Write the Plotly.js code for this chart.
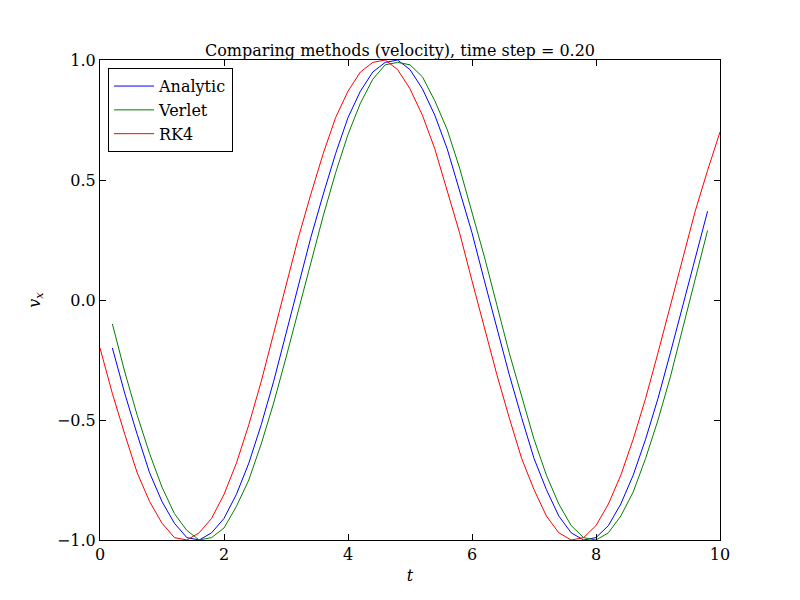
<!DOCTYPE html>
<html>
<head>
<meta charset="utf-8">
<script src="https://cdn.plot.ly/plotly-3.0.1.min.js"></script>
<style>body{margin:0;background:#fff}</style>
</head>
<body>
<div id="plot" style="width:800px;height:600px"></div>
<script>
var tStep = [0.2,0.4,0.6,0.8,1.0,1.2,1.4,1.6,1.8,2.0,2.2,2.4,2.6,2.8,3.0,3.2,3.4,3.6,3.8,4.0,
  4.2,4.4,4.6,4.8,5.0,5.2,5.4,5.6,5.8,6.0,6.2,6.4,6.6,6.8,7.0,7.2,7.4,7.6,7.8,8.0,
  8.2,8.4,8.6,8.8,9.0,9.2,9.4,9.6,9.8];
var tRK4 = [0.0,0.2,0.4,0.6,0.8,1.0,1.2,1.4,1.6,1.8,2.0,2.2,2.4,2.6,2.8,3.0,3.2,3.4,3.6,3.8,4.0,
  4.2,4.4,4.6,4.8,5.0,5.2,5.4,5.6,5.8,6.0,6.2,6.4,6.6,6.8,7.0,7.2,7.4,7.6,7.8,8.0,
  8.2,8.4,8.6,8.8,9.0,9.2,9.4,9.6,9.8,10.0];

var analytic = [-0.20,-0.39,-0.56,-0.72,-0.84,-0.93,-0.99,-1.00,-0.97,-0.91,-0.81,-0.68,-0.52,-0.34,-0.14,
  0.06,0.26,0.44,0.61,0.76,0.87,0.95,0.99,1.00,0.96,0.88,0.77,0.63,0.46,0.28,0.08,
  -0.12,-0.31,-0.49,-0.66,-0.79,-0.90,-0.97,-1.00,-0.99,-0.94,-0.85,-0.73,-0.58,-0.41,-0.22,-0.02,
  0.17,0.37];
var verlet = [-0.10,-0.30,-0.48,-0.64,-0.78,-0.89,-0.96,-1.00,-0.99,-0.95,-0.86,-0.75,-0.60,-0.43,-0.24,-0.04,
  0.16,0.35,0.53,0.69,0.82,0.92,0.98,0.99,0.98,0.93,0.83,0.71,0.55,0.37,0.18,
  -0.02,-0.22,-0.40,-0.58,-0.73,-0.85,-0.94,-0.99,-1.00,-0.97,-0.90,-0.80,-0.66,-0.50,-0.32,-0.12,
  0.08,0.29];
var rk4 = [-0.20,-0.39,-0.56,-0.72,-0.84,-0.93,-0.99,-1.00,-0.97,-0.91,-0.81,-0.68,-0.52,-0.34,-0.14,
  0.06,0.26,0.44,0.61,0.76,0.87,0.95,0.99,1.00,0.96,0.88,0.77,0.63,0.46,0.28,0.08,
  -0.12,-0.31,-0.49,-0.66,-0.79,-0.90,-0.97,-1.00,-0.99,-0.94,-0.85,-0.73,-0.58,-0.41,-0.22,-0.02,
  0.17,0.37,0.54,0.70];

var font = {family: "DejaVu Serif", size: 16, color: "#000"};

var traces = [
  {x: tStep, y: analytic, name: "Analytic", type: "scatter", mode: "lines", line: {color: "#0000ff", width: 1}},
  {x: tStep, y: verlet, name: "Verlet", type: "scatter", mode: "lines", line: {color: "#008000", width: 1}},
  {x: tRK4, y: rk4, name: "RK4", type: "scatter", mode: "lines", line: {color: "#ff0000", width: 1}}
];

var axisCommon = {
  showgrid: false, zeroline: false, showline: true, mirror: "ticks",
  linecolor: "#000", linewidth: 1, ticks: "inside", ticklen: 6, tickcolor: "#000",
  tickfont: font
};

var layout = {
  width: 800, height: 600,
  margin: {l: 100, r: 80, t: 60, b: 60},
  font: font,
  title: {text: "Comparing methods (velocity), time step = 0.20", font: font, x: 0.5, y: 0.925, xanchor: "center"},
  xaxis: Object.assign({}, axisCommon, {range: [0, 10], dtick: 2, title: {text: "<i>t</i>", font: font, standoff: 6}}),
  yaxis: Object.assign({}, axisCommon, {range: [-1, 1], dtick: 0.5, tickformat: ".1f", title: {text: "<i>v</i><sub><i>x</i></sub>", font: font, standoff: 12}}),
  showlegend: true,
  legend: {x: 0.013, y: 0.983, xanchor: "left", yanchor: "top", bordercolor: "#000", borderwidth: 1, bgcolor: "#fff", font: font, itemwidth: 40},
  plot_bgcolor: "#fff", paper_bgcolor: "#fff"
};

Plotly.newPlot("plot", traces, layout, {displayModeBar: false});
</script>
</body>
</html>
